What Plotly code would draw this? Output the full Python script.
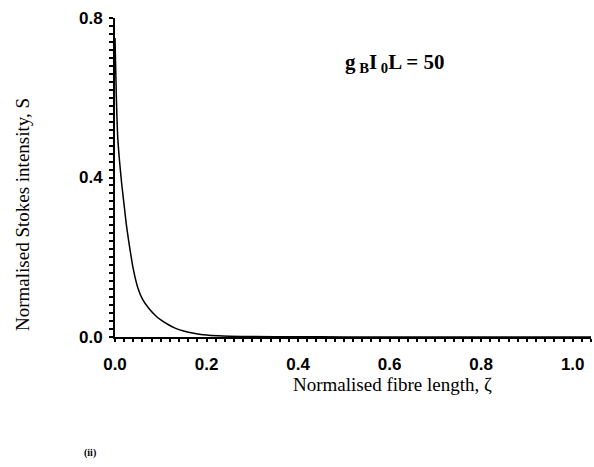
import plotly.graph_objects as go

# Normalised fibre length (zeta) and normalised Stokes intensity (S)
zeta = [0.0, 0.003, 0.006, 0.01, 0.015, 0.02, 0.025, 0.03, 0.04, 0.05, 0.06, 0.075,
        0.09, 0.1, 0.115, 0.13, 0.15, 0.175, 0.2, 0.225, 0.25, 0.3, 0.4, 0.5, 0.6,
        0.8, 1.0, 1.04]
stokes = [0.75, 0.6, 0.5, 0.44, 0.38, 0.33, 0.28, 0.24, 0.17, 0.123, 0.095, 0.07,
          0.052, 0.043, 0.032, 0.023, 0.015, 0.009, 0.005, 0.003, 0.002, 0.001,
          0.0005, 0.0003, 0.0002, 0.0001, 0.0, 0.0]

x_tick_step = 0.2
y_tick_step = 0.4
minor_step = 0.02

x_minor = [round(i * minor_step, 4) for i in range(53)]
y_minor = [round(i * minor_step, 4) for i in range(41)]

fig = go.Figure()
fig.add_trace(go.Scatter(x=zeta, y=stokes, mode="lines",
                         line=dict(color="black", width=1.5, shape="spline", smoothing=0.6),
                         showlegend=False, hoverinfo="skip"))

tickfont = dict(family="Liberation Sans", size=17, color="black", weight="bold")
clear = "rgba(0,0,0,0)"

fig.update_xaxes(range=[0, 1.04], tickmode="linear", tick0=0, dtick=x_tick_step,
                 tickformat=".1f",
                 showgrid=False, zeroline=False, showline=True, linecolor="black",
                 linewidth=2, ticks="outside", ticklen=11, tickwidth=1, tickcolor=clear,
                 tickfont=tickfont,
                 minor=dict(tickmode="array", tickvals=x_minor, ticks="outside", ticklen=3,
                            tickcolor="black", tickwidth=1.5, showgrid=False))
fig.update_yaxes(range=[0, 0.8], tickmode="linear", tick0=0, dtick=y_tick_step,
                 tickformat=".1f",
                 showgrid=False, zeroline=False, showline=True, linecolor="black",
                 linewidth=2, ticks="outside", ticklen=7, tickwidth=1, tickcolor=clear,
                 tickfont=tickfont,
                 minor=dict(tickmode="array", tickvals=y_minor, ticks="outside", ticklen=4,
                            tickcolor="black", tickwidth=1.5, showgrid=False))

serif = "Liberation Serif"
fig.update_layout(
    width=594, height=467,
    margin=dict(l=115, r=3, t=18, b=130),
    paper_bgcolor="white", plot_bgcolor="white",
    annotations=[
        dict(text="Normalised fibre length, ζ", xref="paper", yref="paper",
             x=(392 - 115) / 476, y=-(384 - 337) / 319, xanchor="center", yanchor="middle",
             showarrow=False, font=dict(family=serif, size=19, color="black")),
        dict(text="Normalised Stokes intensity, S", xref="paper", yref="paper",
             x=-(115 - 22) / 476, y=(337 - 215) / 319, xanchor="center", yanchor="middle",
             textangle=-90, showarrow=False,
             font=dict(family=serif, size=19, color="black")),
        dict(text="<b>g<sub> B</sub>I<sub> 0</sub>L = 50</b>", xref="paper", yref="paper",
             x=(395 - 115) / 476, y=(337 - 63) / 319, xanchor="center", yanchor="middle",
             showarrow=False, font=dict(family=serif, size=21, color="black")),
        dict(text="<b>(ii)</b>", xref="paper", yref="paper",
             x=-(115 - 90) / 476, y=-(453 - 337) / 319, xanchor="center", yanchor="middle",
             showarrow=False, font=dict(family=serif, size=10, color="black")),
    ],
)

fig.write_html("out.html")
